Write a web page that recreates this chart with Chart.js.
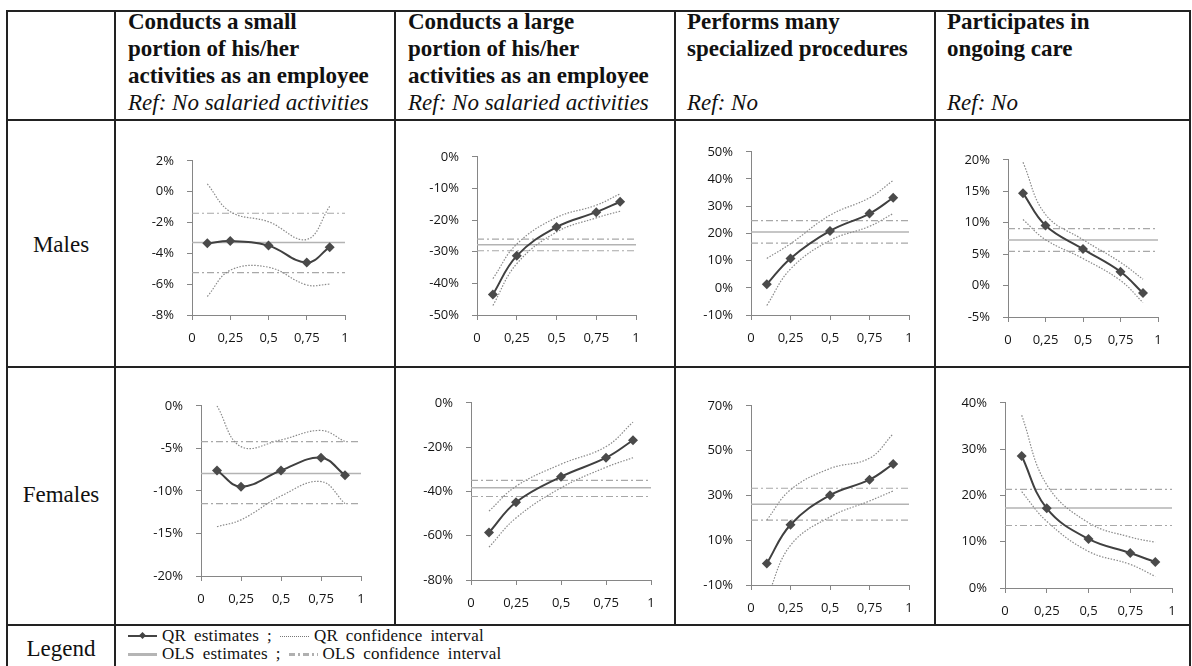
<!DOCTYPE html>
<html>
<head>
<meta charset="utf-8">
<title>Quantile regression estimates by gender</title>
<script src="https://cdn.jsdelivr.net/npm/chart.js@4.4.1/dist/chart.umd.min.js"></script>
<style>
  html, body { margin: 0; padding: 0; background: #fff; }
  body { width: 1192px; height: 666px; overflow: hidden; position: relative;
         font-family: "Liberation Serif", "Times New Roman", serif; color: #111; }
  .hl { position: absolute; height: 2px; background: #222; }
  .vl { position: absolute; width: 2px; background: #222; }
  .head { position: absolute; top: 8px; font-size: 23px; line-height: 27px; font-weight: bold; white-space: nowrap; }
  .head i { font-weight: normal; }
  .rowlab { position: absolute; left: 7px; width: 108px; text-align: center; font-size: 23px; line-height: 27px; }
  .plot { position: absolute; }
  .lgline { position: absolute; left: 128px; height: 18px; font-size: 17px; line-height: 18px;
            white-space: nowrap; word-spacing: 3.5px; letter-spacing: 0.2px; display: flex; align-items: center; }
  .sym { position: relative; display: inline-block; width: 29px; flex: none; }
  .gap { display: inline-block; width: 5px; }
  .gap2 { display: inline-block; width: 8px; }
</style>
</head>
<body>

<!-- table rules -->
<div class="hl" style="left:7px;top:10px;width:1184px"></div>
<div class="hl" style="left:7px;top:119px;width:1184px"></div>
<div class="hl" style="left:7px;top:366px;width:1184px"></div>
<div class="hl" style="left:7px;top:624px;width:1184px"></div>
<div class="vl" style="left:6px;top:10px;height:656px"></div>
<div class="vl" style="left:114px;top:10px;height:656px"></div>
<div class="vl" style="left:394px;top:10px;height:614px"></div>
<div class="vl" style="left:674px;top:10px;height:614px"></div>
<div class="vl" style="left:934px;top:10px;height:614px"></div>
<div class="vl" style="left:1189px;top:10px;height:656px"></div>

<!-- column headers -->
<div class="head" style="left:128px">Conducts a small<br>portion of his/her<br>activities as an employee<br><i>Ref: No salaried activities</i></div>
<div class="head" style="left:408px">Conducts a large<br>portion of his/her<br>activities as an employee<br><i>Ref: No salaried activities</i></div>
<div class="head" style="left:687px">Performs many<br>specialized procedures<br>&nbsp;<br><i>Ref: No</i></div>
<div class="head" style="left:947px">Participates in<br>ongoing care<br>&nbsp;<br><i>Ref: No</i></div>

<!-- row labels -->
<div class="rowlab" style="top:231px">Males</div>
<div class="rowlab" style="top:481px">Females</div>
<div class="rowlab" style="top:635px">Legend</div>

<!-- legend row -->
<div class="lgline" style="top:627px">
  <span class="sym" style="height:2px;background:#444">
    <span style="position:absolute;left:12px;top:-2px;width:5px;height:5px;background:#444;transform:rotate(45deg)"></span>
  </span>
  <span class="gap"></span>QR estimates ;<span class="gap2"></span>
  <span class="sym" style="height:0;border-top:1px dotted #777"></span>
  <span class="gap"></span>QR confidence interval
</div>
<div class="lgline" style="top:645px">
  <span class="sym" style="height:3px;background:#b5b5b5"></span>
  <span class="gap"></span>OLS estimates ;<span class="gap2"></span>
  <span class="sym" style="height:3px;background:repeating-linear-gradient(90deg,#b0b0b0 0 6px,transparent 6px 9px,#b0b0b0 9px 11px,transparent 11px 14px)"></span>
  <span class="gap"></span>OLS confidence interval
</div>

<script>
// Quantiles at which the QR model is estimated, and the x-axis ticks
const quantiles = [0.1, 0.25, 0.5, 0.75, 0.9];
const xTickValues = [0, 0.25, 0.5, 0.75, 1];
const xTickLabels = ['0', '0,25', '0,5', '0,75', '1'];

// Y-axis tick values (in %) for each panel
const yTicksMSmall = [-8, -6, -4, -2, 0, 2];
const yTicksMLarge = [-50, -40, -30, -20, -10, 0];
const yTicksMSpec  = [-10, 0, 10, 20, 30, 40, 50];
const yTicksMCare  = [-5, 0, 5, 10, 15, 20];
const yTicksFSmall = [-20, -15, -10, -5, 0];
const yTicksFLarge = [-80, -60, -40, -20, 0];
const yTicksFSpec  = [-10, 10, 30, 50, 70];
const yTicksFCare  = [0, 10, 20, 30, 40];

// Males: QR estimates and confidence bounds (%), per quantile
const mSmallQR = [-3.35, -3.2, -3.5, -4.6, -3.6];
const mSmallLo = [-6.8, -5.1, -4.9, -6.05, -6.0];
const mSmallHi = [0.5, -1.3, -1.95, -3.1, -0.95];

const mLargeQR = [-43.5, -31.3, -22.2, -17.5, -14.2];
const mLargeLo = [-47.0, -33.8, -23.8, -19.3, -17.2];
const mLargeHi = [-38.5, -27.6, -19.2, -15.3, -11.7];

const mSpecQR = [1.3, 10.8, 20.9, 27.3, 33.1];
const mSpecLo = [-6.5, 6.9, 17.4, 22.6, 27.3];
const mSpecHi = [10.8, 16.2, 26.7, 33.1, 39.5];

const mCareQR = [14.7, 9.55, 5.8, 2.2, -1.2];
const mCareLo = [10.5, 7.3, 4.3, 0.8, -2.7];
const mCareHi = [19.6, 11.3, 7.3, 3.7, 1.0];

// Females: QR estimates and confidence bounds (%), per quantile
const fSmallQR = [-7.6, -9.5, -7.6, -6.1, -8.15];
const fSmallLo = [-14.2, -13.4, -10.6, -8.9, -11.5];
const fSmallHi = [0.0, -4.8, -4.0, -2.9, -4.2];

const fLargeQR = [-58.6, -44.9, -33.4, -24.8, -16.9];
const fLargeLo = [-65.2, -52.0, -38.4, -29.1, -24.8];
const fLargeHi = [-48.9, -37.7, -27.7, -19.8, -8.7];

const fSpecQR = [-0.4, 16.9, 30.1, 37.0, 44.0];
const fSpecLo = [-16.0, 7.7, 20.4, 27.5, 32.0];
const fSpecHi = [19.0, 32.5, 42.0, 46.6, 57.5];

const fCareQR = [28.5, 17.2, 10.6, 7.55, 5.6];
const fCareLo = [20.8, 14.4, 7.9, 5.1, 2.5];
const fCareHi = [37.3, 22.3, 14.1, 11.0, 9.9];

// OLS estimate, lower and upper confidence bound (%)
const mSmallOLS = [-3.3, -5.25, -1.4];
const mLargeOLS = [-27.8, -29.7, -26.0];
const mSpecOLS  = [20.5, 16.4, 24.7];
const mCareOLS  = [7.25, 5.45, 9.05];
const fSmallOLS = [-7.95, -11.5, -4.2];
const fLargeOLS = [-38.4, -42.3, -35.0];
const fSpecOLS  = [26.1, 19.0, 33.2];
const fCareOLS  = [17.3, 13.5, 21.3];

// Plot-area rectangles (left, top, right, bottom) for each panel in the table
const panels = [
  { rect: [192, 152, 345, 315], yTicks: yTicksMSmall, qr: mSmallQR, lo: mSmallLo, hi: mSmallHi, ols: mSmallOLS },
  { rect: [477, 148, 636, 315], yTicks: yTicksMLarge, qr: mLargeQR, lo: mLargeLo, hi: mLargeHi, ols: mLargeOLS },
  { rect: [751, 143, 909, 315], yTicks: yTicksMSpec,  qr: mSpecQR,  lo: mSpecLo,  hi: mSpecHi,  ols: mSpecOLS },
  { rect: [1008, 151, 1158, 317], yTicks: yTicksMCare, qr: mCareQR, lo: mCareLo, hi: mCareHi, ols: mCareOLS },
  { rect: [201, 397, 361, 576], yTicks: yTicksFSmall, qr: fSmallQR, lo: fSmallLo, hi: fSmallHi, ols: fSmallOLS },
  { rect: [471, 394, 651, 580], yTicks: yTicksFLarge, qr: fLargeQR, lo: fLargeLo, hi: fLargeHi, ols: fLargeOLS },
  { rect: [751, 397, 909, 585], yTicks: yTicksFSpec,  qr: fSpecQR,  lo: fSpecLo,  hi: fSpecHi,  ols: fSpecOLS },
  { rect: [1005, 394, 1172, 588], yTicks: yTicksFCare, qr: fCareQR, lo: fCareLo, hi: fCareHi, ols: fCareOLS }
];

const AXIS = '#868686';
const TICK_FONT = { family: 'Open Sans', size: 13 };
const TICK_COLOR = '#141414';
const PAD = { left: 70, top: 12, right: 14, bottom: 36 };

const toPoints = vals => vals.map((v, i) => ({ x: quantiles[i], y: v }));
const hLine = v => [{ x: 0, y: v }, { x: 1, y: v }];

function drawPanel(p) {
  const [l, t, r, b] = p.rect;
  const cv = document.createElement('canvas');
  cv.className = 'plot';
  cv.width = r - l + PAD.left + PAD.right;
  cv.height = b - t + PAD.top + PAD.bottom;
  cv.style.left = (l - PAD.left) + 'px';
  cv.style.top = (t - PAD.top) + 'px';
  document.body.appendChild(cv);

  const yMin = p.yTicks[0];
  const yMax = p.yTicks[p.yTicks.length - 1];

  const ciStyle = { showLine: true, borderColor: '#8a8a8a', borderWidth: 1.2, borderDash: [1.5, 1.5],
                    tension: 0.4, pointRadius: 0, fill: false };
  const olsCiStyle = { showLine: true, borderColor: '#a8a8a8', borderWidth: 1.2, borderDash: [7, 3, 2, 3],
                       pointRadius: 0, fill: false };

  new Chart(cv, {
    type: 'scatter',
    data: {
      datasets: [
        { label: 'QR estimates', data: toPoints(p.qr), showLine: true, borderColor: '#404040', borderWidth: 2,
          tension: 0.4, pointStyle: 'rectRot', pointRadius: 5, pointBackgroundColor: '#4a4a4a',
          pointBorderWidth: 0, fill: false },
        Object.assign({ label: 'QR upper', data: toPoints(p.hi) }, ciStyle),
        Object.assign({ label: 'QR lower', data: toPoints(p.lo) }, ciStyle),
        { label: 'OLS estimates', data: hLine(p.ols[0]), showLine: true, borderColor: '#b3b3b3',
          borderWidth: 1.5, pointRadius: 0, fill: false },
        Object.assign({ label: 'OLS lower', data: hLine(p.ols[1]) }, olsCiStyle),
        Object.assign({ label: 'OLS upper', data: hLine(p.ols[2]) }, olsCiStyle)
      ]
    },
    options: {
      responsive: false,
      animation: false,
      devicePixelRatio: 1,
      layout: { padding: { top: PAD.top, right: PAD.right, left: 0, bottom: 0 } },
      plugins: { legend: { display: false }, tooltip: { enabled: false } },
      scales: {
        x: {
          type: 'linear', min: 0, max: 1,
          afterFit: s => { s.height = PAD.bottom; },
          afterBuildTicks: s => { s.ticks = xTickValues.map(v => ({ value: v })); },
          ticks: { callback: v => xTickLabels[xTickValues.indexOf(v)], padding: 10, color: TICK_COLOR,
                   font: TICK_FONT, maxRotation: 0, autoSkip: false },
          grid: { drawOnChartArea: false, drawTicks: true, tickLength: 5, color: AXIS },
          border: { color: AXIS, width: 1 }
        },
        y: {
          type: 'linear', min: yMin, max: yMax,
          afterFit: s => { s.width = PAD.left; },
          afterBuildTicks: s => { s.ticks = p.yTicks.map(v => ({ value: v })); },
          ticks: { callback: v => v + '%', padding: 13, color: TICK_COLOR, font: TICK_FONT, autoSkip: false },
          grid: { drawOnChartArea: false, drawTicks: true, tickLength: 5, color: AXIS },
          border: { color: AXIS, width: 1 }
        }
      }
    }
  });
}

panels.forEach(drawPanel);
</script>
</body>
</html>
